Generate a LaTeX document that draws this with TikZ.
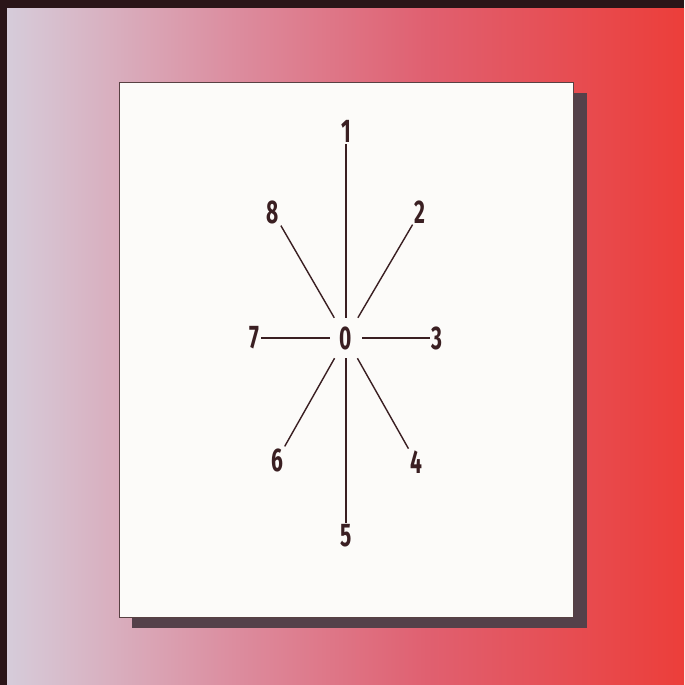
\documentclass[tikz,border=0pt]{standalone}
\usepackage{fontspec}
\newfontfamily\spokefont{Fira Sans}[FakeStretch=0.64]
\definecolor{framedark}{HTML}{2A1518}
\definecolor{washleft}{HTML}{D6CCDA}
\definecolor{washpink}{HTML}{DC8C9E}
\definecolor{washrose}{HTML}{E06070}
\definecolor{washred}{HTML}{EC3E3A}
\definecolor{sheetshadow}{HTML}{54414A}
\definecolor{paper}{HTML}{FCFBF9}
\definecolor{inkbrown}{HTML}{3A1F22}
\pgfdeclarehorizontalshading{washfade}{100bp}{color(0bp)=(washleft); color(25bp)=(washleft);
  color(42bp)=(washpink); color(56bp)=(washrose); color(75bp)=(washred); color(100bp)=(washred)}

\begin{document}
\begin{tikzpicture}[x=0.3mm, y=-0.3mm,
  digit/.style={font=\spokefont\bfseries\fontsize{28}{28}\selectfont, text=inkbrown,
                inner sep=1.5pt},
  hub/.style={digit, minimum width=9.6mm, minimum height=12mm, inner sep=0pt},
  spoke/.style={draw=inkbrown, line width=1.2pt},
  sheet/.style={fill=paper, draw=inkbrown!85, line width=0.6pt},
]
  \useasboundingbox (0,0) rectangle (684,685);

  % Dark frame and coloured wash behind the sheet.
  \fill[framedark] (0,0) rectangle (684,685);
  \shade[shading=washfade] (7,8) rectangle (684,685);

  % Sheet with its drop shadow.
  \fill[sheetshadow] (132,93) rectangle (587,628);
  \draw[sheet] (119,82) rectangle (573,617);

  % Hub and the eight numbered ends.
  \node[hub] (hub) at (346,338) {0};
  \node[digit] (n1) at (346,131) {1};
  \node[digit] (n2) at (420,212) {2};
  \node[digit] (n3) at (437,338) {3};
  \node[digit] (n4) at (416,462) {4};
  \node[digit] (n5) at (346,536) {5};
  \node[digit] (n6) at (277,460) {6};
  \node[digit] (n7) at (254,338) {7};
  \node[digit] (n8) at (273,212) {8};

  \foreach \n in {1,...,8}
    \draw[spoke] (hub) -- (n\n);
\end{tikzpicture}
\end{document}
